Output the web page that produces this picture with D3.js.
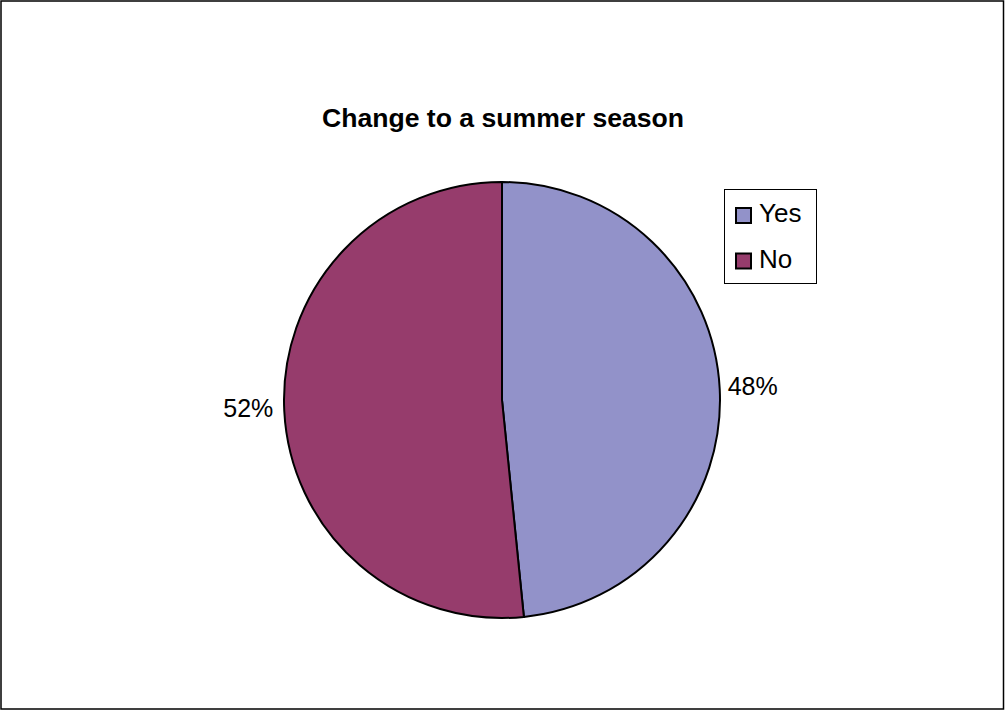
<!DOCTYPE html>
<html>
<head>
<meta charset="utf-8">
<script src="https://cdn.jsdelivr.net/npm/d3@7"></script>
<style>
  html, body { margin: 0; padding: 0; background: #fff; }
  svg { display: block; }
  text { font-family: "Liberation Sans", Arial, sans-serif; }
</style>
</head>
<body>
<svg id="chart" width="1005" height="711"></svg>
<script>
const title = "Change to a summer season";
const categories = ["Yes", "No"];
const values = [48.4, 51.6];
const colors = ["#9292C9", "#963C6C"];

const svg = d3.select("#chart");
const W = 1005, H = 711;

// outer frame
svg.append("rect")
  .attr("x", 1).attr("y", 1)
  .attr("width", W - 2.5).attr("height", H - 3)
  .attr("fill", "#fff").attr("stroke", "#000").attr("stroke-width", 1.5);

// title
svg.append("text")
  .attr("x", 503).attr("y", 127)
  .attr("text-anchor", "middle")
  .attr("font-size", 26.6).attr("font-weight", "bold")
  .attr("fill", "#000")
  .text(title);

const cx = 502, cy = 400, r = 218;
const total = d3.sum(values);
const pie = d3.pie().sort(null).value(d => d)(values);
const arc = d3.arc().innerRadius(0).outerRadius(r);
const color = d3.scaleOrdinal().domain(categories).range(colors);

const g = svg.append("g").attr("transform", `translate(${cx},${cy})`);
g.selectAll("path.slice")
  .data(pie)
  .join("path")
  .attr("class", "slice")
  .attr("d", arc)
  .attr("fill", (d, i) => color(categories[i]))
  .attr("stroke", "#000")
  .attr("stroke-width", 2)
  .attr("stroke-linejoin", "round");

const fmt = d3.format(".0%");
g.selectAll("text.lbl")
  .data(pie)
  .join("text")
  .attr("class", "lbl")
  .each(function(d) {
    const a = (d.startAngle + d.endAngle) / 2;
    const sx = Math.sin(a), sy = -Math.cos(a);
    const x = sx * r + (sx >= 0 ? 8 : -11);
    const y = sy * r - 3;
    d3.select(this)
      .attr("x", x).attr("y", y)
      .attr("dy", "0.35em")
      .attr("text-anchor", sx >= 0 ? "start" : "end");
  })
  .attr("font-size", 25)
  .attr("fill", "#000")
  .text(d => fmt(d.value / total));

// legend
const lg = svg.append("g");
lg.append("rect")
  .attr("x", 724.5).attr("y", 189.5)
  .attr("width", 92).attr("height", 94)
  .attr("fill", "#fff").attr("stroke", "#000").attr("stroke-width", 1);
const items = lg.selectAll("g.item")
  .data(categories)
  .join("g")
  .attr("class", "item")
  .attr("transform", (d, i) => `translate(0, ${i * 45.5})`);
items.append("rect")
  .attr("x", 736).attr("y", 208)
  .attr("width", 15).attr("height", 15)
  .attr("fill", d => color(d))
  .attr("stroke", "#000").attr("stroke-width", 2);
items.append("text")
  .attr("x", 759).attr("y", 222)
  .attr("font-size", 26)
  .attr("fill", "#000")
  .text(d => d);
</script>
</body>
</html>
